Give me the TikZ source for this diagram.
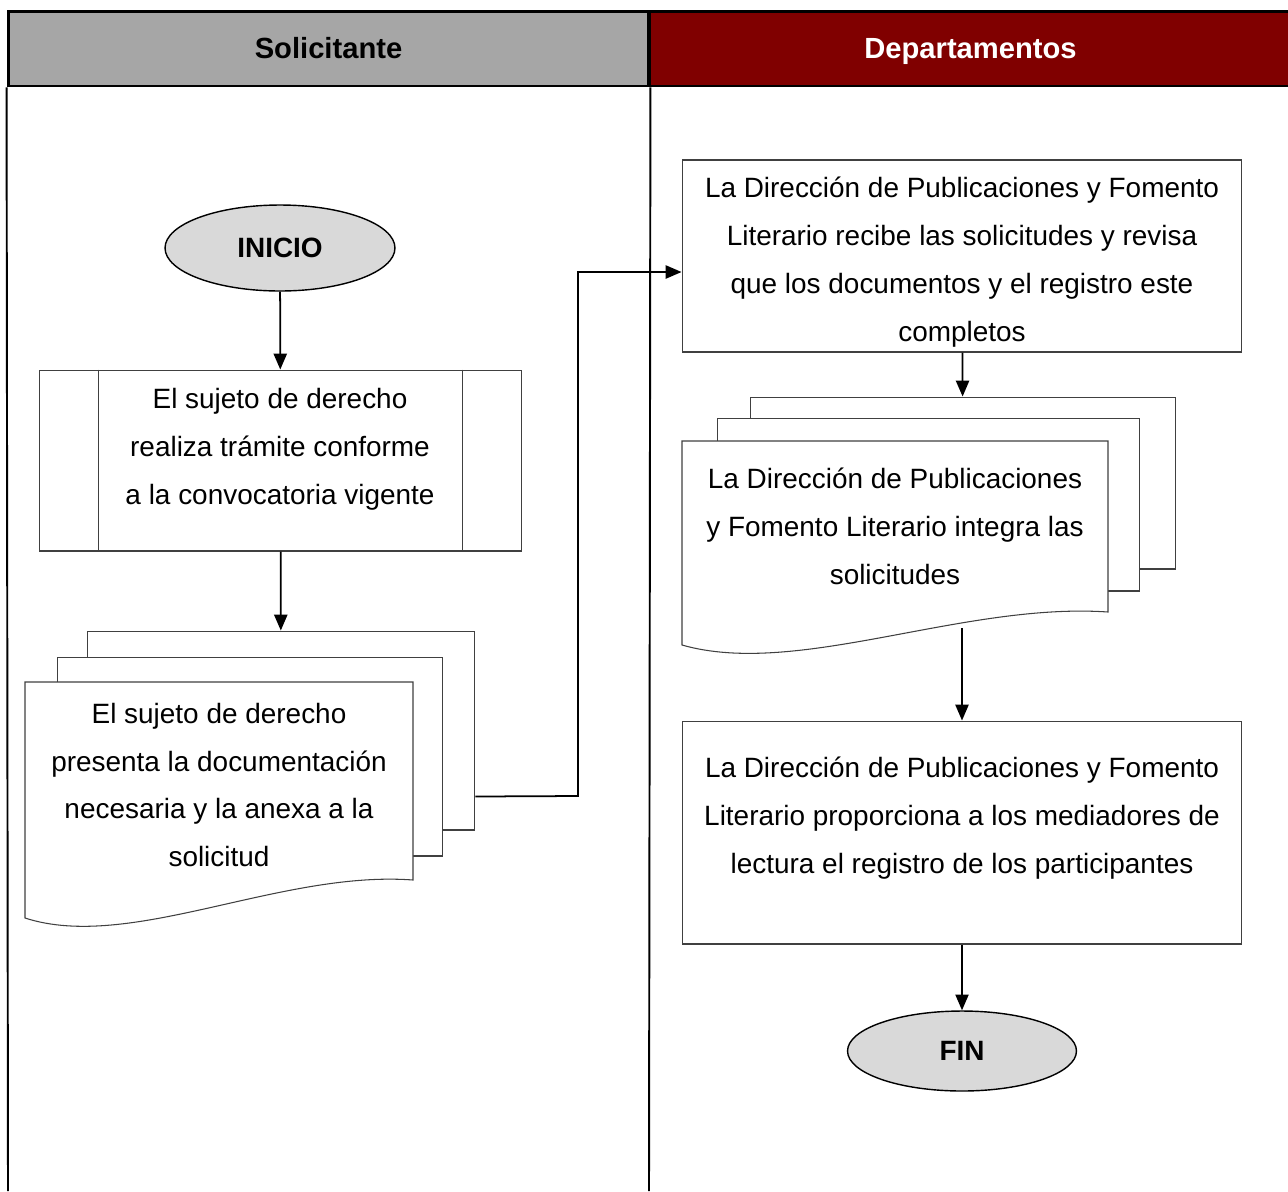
\documentclass[tikz,border=0pt]{standalone}
\usepackage{fontspec}
\setmainfont{Liberation Sans}
\usetikzlibrary{shapes.geometric,arrows.meta,calc}
\definecolor{lanegray}{HTML}{A6A6A6}
\definecolor{lanered}{HTML}{800000}
\definecolor{termgray}{HTML}{D9D9D9}
\definecolor{shpline}{HTML}{404040}

\begin{document}
\begin{tikzpicture}[x=0.02cm, y=-0.02cm,
  lane/.style={rectangle, draw=black, line width=1.7pt, minimum height=1.5cm,
               text height=13pt, text depth=1.2pt,
               font=\fontsize{16.6}{19}\selectfont\bfseries},
  term/.style={ellipse, draw=black, line width=0.8pt, fill=termgray,
               minimum width=4.6cm, minimum height=1.72cm,
               font=\fontsize{15.9}{19}\selectfont\bfseries},
  proc/.style={rectangle, draw=shpline, line width=0.6pt, fill=white},
  page/.style={rectangle, draw=shpline, line width=0.6pt, fill=white},
  txt/.style={align=center, font=\fontsize{15.9}{27.3}\selectfont},
  arr/.style={-{Triangle[length=9pt,width=7.5pt]}, line width=1pt},
  laneline/.style={line width=1.1pt}
]
\useasboundingbox (0,0) rectangle (1288,1191);

% swimlane headers
\node[lane, fill=lanegray, minimum width=12.82cm] (hsol) at (328.5,48.5) {Solicitante};
\node[lane, fill=lanered, text=white, minimum width=12.86cm] (hdep) at (970.5,48.5) {Departamentos};
\draw[laneline] (hsol.south west) -- (8,1191);
\draw[laneline] (hsol.south east) -- (649,1191);

% Solicitante
\node[term] (ini) at (280,248) {INICIO};

\node[proc, minimum width=9.66cm, minimum height=3.62cm] (tram) at (280.5,460.5) {};
\draw[proc] ($(tram.north west)+(60,0)$) -- ($(tram.south west)+(60,0)$);
\draw[proc] ($(tram.north east)+(-60,0)$) -- ($(tram.south east)+(-60,0)$);
\node[txt] (tramtxt) at (280,449) {El sujeto de derecho\\realiza trámite conforme\\a la convocatoria vigente};

\node[page, minimum width=7.76cm, minimum height=3.98cm] (docA3) at (281,730.5) {};
\node[page, minimum width=7.72cm, minimum height=3.98cm] (docA2) at (250,756.5) {};
\draw[page] (25,682) -- (413,682) -- (413,880)
  .. controls (280,870) and (130,952) .. (25,918) -- cycle;
\node[txt] (docAtxt) at (219,785) {El sujeto de derecho\\presenta la documentación\\necesaria y la anexa a la\\solicitud};
\coordinate (docAout) at ($(docA3.south east)+(0,-34)$);

% Departamentos
\node[proc, minimum width=11.2cm, minimum height=3.84cm] (recibe) at (962,256) {};
\node[txt] (recibetxt) at (962,262) {La Dirección de Publicaciones y Fomento\\Literario recibe las solicitudes y revisa\\que los documentos y el registro este\\completos};

\node[page, minimum width=8.52cm, minimum height=3.44cm] (docB3) at (963,483) {};
\node[page, minimum width=8.46cm, minimum height=3.46cm] (docB2) at (928.5,504.5) {};
\draw[page] (682,441) -- (1108,441) -- (1108,612)
  .. controls (963,602) and (797,678) .. (682,645) -- cycle;
\node[txt] (docBtxt) at (895,526) {La Dirección de Publicaciones\\y Fomento Literario integra las\\solicitudes};
\coordinate (docBout) at (962,628);

\node[proc, minimum width=11.2cm, minimum height=4.46cm] (entrega) at (962,832.5) {};
\node[txt] (entregatxt) at (962,818) {La Dirección de Publicaciones y Fomento\\Literario proporciona a los mediadores de\\lectura el registro de los participantes};

\node[term, minimum width=4.58cm, minimum height=1.6cm] (fin) at (962,1051) {FIN};

% connectors
\draw[arr] (ini) -- (tram);
\draw[arr] (tram) -- (docA3);
\draw[arr] (docAout) -- (578,796) |- ($(recibe.west)+(0,16)$);
\draw[arr] (recibe) -- (docB3);
\draw[arr] (docBout) -- (entrega);
\draw[arr] (entrega) -- (fin);
\end{tikzpicture}
\end{document}
